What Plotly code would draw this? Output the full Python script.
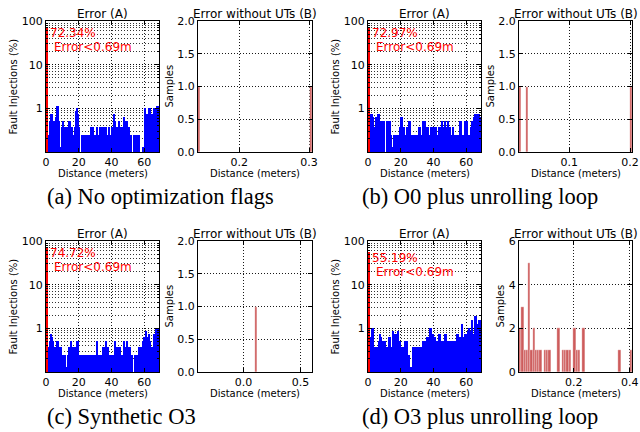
import numpy as np
import plotly.graph_objects as go

W, H = 640, 432
BIN_W = 0.69          # histogram bin width (m) of the "Error (A)" panels
N_UT_BINS = 50        # bins of the "Error without UTs (B)" panels

captions = ["(a) No optimization flags", "(b) O0 plus unrolling loop",
            "(c) Synthetic O3", "(d) O3 plus unrolling loop"]
below_pct = [72.34, 72.97, 74.72, 55.19]   # share with Error<0.69m (first bin)

# percentage of fault injections in bins 2..100 (0.69 m wide)
a_pct = [0.25, 0.25, 0.51, 0.76, 0.76, 0.51, 0.51, 0.63, 1.14, 1.14,
         0.51, 0, 0.13, 0.38, 0.51, 0.38, 0.38, 0.38, 0.25, 0.51,
         0.51, 0, 0.38, 0.25, 0.38, 0.89, 1.02, 0.76, 0.38, 0,
         0.25, 0.25, 0.25, 0.25, 0, 0.25, 0.25, 0.25, 0.38, 0.38,
         0.38, 0.25, 0.25, 0, 0.38, 0.25, 0.38, 0.38, 0.25, 0.38,
         0.25, 0.38, 0.38, 0.25, 0.38, 0.25, 0, 0.38, 0.25, 0.76,
         0.51, 0.38, 0.38, 0.51, 0.38, 0.25, 0.38, 0.25, 0.63, 0.51,
         0.51, 0.25, 0.38, 0.25, 0.25, 0, 0.25, 0.25, 0.25, 0.25,
         0.25, 0.25, 0, 0, 0.13, 0, 1.02, 0.76, 0.76, 0.51,
         1.02, 1.02, 0.76, 0.63, 1.02, 0.51, 1.02, 1.14, 1.14]
b_pct = [0.76, 0.63, 0.76, 0.63, 0.38, 0.25, 0.63, 0.76, 0.76, 0.51,
         0.38, 0.51, 0.51, 0.51, 0, 0.51, 0.51, 0.25, 0.51, 0.25,
         0, 0.13, 0.25, 0.25, 0.25, 0.25, 0.13, 0.38, 0.63, 0.63,
         0.38, 0.25, 0.25, 0.38, 0.25, 0.51, 0.51, 0.25, 0.25, 0.25,
         0, 0.25, 0.25, 0.13, 0.38, 0.38, 0.25, 0.51, 0.51, 0.51,
         0.38, 0.38, 0.38, 0.25, 0.38, 0, 0.38, 0.38, 0.38, 0.38,
         0.25, 0.38, 0.38, 0.38, 0.51, 0.38, 0.38, 0.51, 0.38, 0.51,
         0.38, 0.38, 0.25, 0.25, 0.38, 0.25, 0.25, 0.25, 0.25, 0.25,
         0.51, 0.51, 0.25, 0.25, 0.51, 0.51, 0.51, 0.25, 0, 0.25,
         0.38, 0.51, 0.63, 0.76, 0.51, 0.76, 0.76, 0.76, 0.63]
c_pct = [0.38, 0.38, 0.51, 0.76, 0.63, 0.51, 0.38, 0.38, 0.51, 0.51,
         0.38, 0.38, 0.38, 0.25, 0.25, 0.25, 0, 0.13, 0.25, 0.38,
         0.38, 0.51, 0.38, 0.38, 0.25, 0.38, 0.51, 0.51, 0.25, 0.25,
         0.25, 0.25, 0, 0.25, 0.25, 0.25, 0, 0.25, 0.25, 0.25,
         0.25, 0.25, 0.25, 0.25, 0.51, 0.25, 0.25, 0, 0.25, 0.38,
         0.38, 0.38, 0.51, 0.38, 0.25, 0.25, 0, 0.25, 0.25, 0.25,
         0.51, 0.38, 0.38, 0.38, 0.38, 0.25, 0.25, 0.25, 0.51, 0.38,
         0.51, 0.38, 0.38, 0.38, 0.25, 0.25, 0, 0.25, 0.25, 0.25,
         0.25, 0.38, 0.38, 0.38, 0.51, 0.63, 0.51, 0.89, 0.63, 0.51,
         0.76, 0.51, 0.38, 0.38, 0.76, 0.63, 1.02, 1.02, 1.02]
d_pct = [0.63, 0.63, 1.02, 1.02, 0.38, 0.38, 0.38, 0.38, 0.51, 0.76,
         0.63, 0.51, 0.38, 0.51, 0.51, 0.38, 0.38, 0.63, 0.63, 0.38,
         0.38, 0.89, 0.76, 0.76, 0.76, 0.89, 0.51, 0.51, 0.38, 0.38,
         0.38, 0.51, 0.25, 0.51, 0.25, 0.25, 0.13, 0.13, 0.38, 0.38,
         0.38, 0.13, 0.38, 0.38, 0.13, 0.38, 0.38, 0.51, 0.25, 0.51,
         0.51, 0.63, 0.63, 1.02, 1.02, 0.76, 0.76, 0.51, 0.63, 0.51,
         0.51, 0.76, 0.76, 0.51, 0.51, 0.51, 0.38, 0.76, 0.76, 0.51,
         0.51, 0.51, 0.38, 0.51, 0.51, 0.51, 0.51, 0.76, 0.76, 0.51,
         0.63, 0.63, 1.27, 0.63, 0.76, 0.63, 0.76, 0.89, 1.02, 0.89,
         0.63, 1.52, 0.76, 1.90, 1.90, 0.76, 1.27, 1.52, 1.52]

# "Error without UTs (B)": histogram range (min, max) and 50 bin counts
a_ut_range = [0.1407, 0.3043]
a_ut_counts = [1, 0, 0, 0, 0, 0, 0, 0, 0, 0, 0, 0, 0, 0, 0, 0, 0, 0, 0, 0, 0, 0, 0, 0, 0,
               0, 0, 0, 0, 0, 0, 0, 0, 0, 0, 0, 0, 0, 0, 0, 0, 0, 0, 0, 0, 0, 0, 0, 0, 1]
b_ut_range = [0.0171, 0.2033]
b_ut_counts = [1, 0, 0, 1, 0, 0, 0, 0, 0, 0, 0, 0, 0, 0, 0, 0, 0, 0, 0, 0, 0, 0, 0, 0, 0,
               0, 0, 0, 0, 0, 0, 0, 0, 0, 0, 0, 0, 0, 0, 0, 0, 0, 0, 0, 0, 0, 0, 0, 0, 1]
c_ut_range = [-0.4, 0.6]
c_ut_counts = [0, 0, 0, 0, 0, 0, 0, 0, 0, 0, 0, 0, 0, 0, 0, 0, 0, 0, 0, 0, 0, 0, 0, 0, 0,
               1, 0, 0, 0, 0, 0, 0, 0, 0, 0, 0, 0, 0, 0, 0, 0, 0, 0, 0, 0, 0, 0, 0, 0, 0]
d_ut_range = [0.004, 0.408]
d_ut_counts = [2, 3, 1, 1, 5, 1, 2, 1, 1, 1, 0, 1, 1, 1, 0, 0, 0, 2, 0, 1, 1, 1, 1, 0, 2,
               1, 1, 0, 2, 0, 0, 0, 0, 0, 0, 0, 0, 0, 0, 0, 0, 0, 0, 0, 1, 0, 0, 0, 0, 1]

ut_xticks = [[0.2, 0.3], [0.1, 0.2], [0.0, 0.5], [0.2, 0.4]]
ut_yticks = [[0, 0.5, 1.0, 1.5, 2.0], [0, 0.5, 1.0, 1.5, 2.0],
             [0, 0.5, 1.0, 1.5, 2.0], [0, 2, 4, 6]]
err_xticks = [0, 20, 40, 60]
err_yticks = [1, 10, 100]

# ---------------- layout geometry (pixels) ----------------
rows_y = [(21, 152), (241, 372)]
cols_x = [((46, 159), (198, 312)), ((368, 481), (519, 632))]
samples_label_x = [169, 490, 169, 500]
caption_x = [45, 360, 45, 360]

SANS = "DejaVu Sans"
SERIF = "Liberation Serif"
BLUE = "#0000ff"
RED = "#ff0000"
IRED = "#cd5c5c"
DOT = "1px,2px"
GRID = dict(showgrid=True, gridcolor="rgba(0,0,0,0.9)", griddash=DOT, gridwidth=1)


def px(x):
    return x / W


def py(y):
    return 1 - y / H


fig = go.Figure()
layout = dict(width=W, height=H, margin=dict(l=0, r=0, t=0, b=0, autoexpand=False),
              paper_bgcolor="white", plot_bgcolor="white", showlegend=False,
              bargap=0, barmode="overlay", font=dict(family=SANS, size=11, color="black"))
annotations = []

err_sets = [a_pct, b_pct, c_pct, d_pct]
ut_ranges = [a_ut_range, b_ut_range, c_ut_range, d_ut_range]
ut_counts = [a_ut_counts, b_ut_counts, c_ut_counts, d_ut_counts]

axis_common = dict(showline=True, linecolor="black", linewidth=1, mirror="ticks",
                   ticks="inside", ticklen=4, tickcolor="black", zeroline=False,
                   automargin=False, layer="above traces",
                   tickfont=dict(family=SANS, size=11, color="black"), **GRID)

for p in range(4):
    r, c = divmod(p, 2)
    y0, y1 = rows_y[r]
    (lx0, lx1), (rx0, rx1) = cols_x[c]
    ia, ib = 2 * p + 1, 2 * p + 2
    xa, ya = f"x{ia}", f"y{ia}"
    xb, yb = f"x{ib}", f"y{ib}"

    # ---- Error (A): log-scale histogram ----
    vals = err_sets[p]
    centers = BIN_W * (np.arange(1, len(vals) + 1) + 0.5)
    fig.add_trace(go.Bar(x=centers, y=[v if v > 0 else None for v in vals], width=BIN_W,
                         marker=dict(color=BLUE, line=dict(width=0)), xaxis=xa, yaxis=ya))
    fig.add_trace(go.Bar(x=[BIN_W / 2], y=[below_pct[p]], width=BIN_W,
                         marker=dict(color=RED, line=dict(width=0)), xaxis=xa, yaxis=ya))
    layout[f"xaxis{ia}"] = dict(domain=[px(lx0), px(lx1)], anchor=ya, range=[0, BIN_W * 100],
                                tickvals=err_xticks, **axis_common)
    layout[f"yaxis{ia}"] = dict(domain=[py(y1), py(y0)], anchor=xa, type="log", range=[-1, 2],
                                tickvals=err_yticks, ticktext=[str(t) for t in err_yticks],
                                minor=dict(dtick="D1", showgrid=True, gridcolor="rgba(0,0,0,0.8)",
                                           griddash=DOT, gridwidth=1, ticks="inside",
                                           ticklen=2, tickcolor="black"),
                                **axis_common)

    # ---- Error without UTs (B): linear histogram ----
    lo, hi = ut_ranges[p]
    cnt = ut_counts[p]
    bw = (hi - lo) / N_UT_BINS
    ucent = lo + bw * (np.arange(N_UT_BINS) + 0.5)
    fig.add_trace(go.Bar(x=ucent, y=cnt, width=bw,
                         marker=dict(color=IRED, line=dict(width=0.3, color="white")),
                         xaxis=xb, yaxis=yb))
    yt = ut_yticks[p]
    layout[f"xaxis{ib}"] = dict(domain=[px(rx0), px(rx1)], anchor=yb, range=[lo, hi],
                                tickvals=ut_xticks[p], tickformat=".1f", **axis_common)
    layout[f"yaxis{ib}"] = dict(domain=[py(y1), py(y0)], anchor=xb, range=[0, yt[-1]],
                                tickvals=yt, tickformat=".1f" if yt[-1] == 2.0 else "d",
                                **axis_common)

    # ---- texts ----
    annotations += [
        dict(text="Error (A)", x=px((lx0 + lx1) / 2), y=py(y0 - 7), xref="paper", yref="paper",
             showarrow=False, xanchor="center", yanchor="middle", font=dict(size=12)),
        dict(text="Error without UTs (B)", x=px((rx0 + rx1) / 2), y=py(y0 - 7), xref="paper",
             yref="paper", showarrow=False, xanchor="center", yanchor="middle", font=dict(size=12)),
        dict(text="Fault Injections (%)", x=px(lx0 - 33), y=py((y0 + y1) / 2), xref="paper",
             yref="paper", showarrow=False, textangle=-90, xanchor="center", yanchor="middle",
             font=dict(size=10)),
        dict(text="Samples", x=px(samples_label_x[p]), y=py((y0 + y1) / 2), xref="paper",
             yref="paper", showarrow=False, textangle=-90, xanchor="center", yanchor="middle",
             font=dict(size=10)),
        dict(text="Distance (meters)", x=px((lx0 + lx1) / 2), y=py(y1 + 21), xref="paper",
             yref="paper", showarrow=False, xanchor="center", yanchor="middle", font=dict(size=10)),
        dict(text="Distance (meters)", x=px((rx0 + rx1) / 2), y=py(y1 + 21), xref="paper",
             yref="paper", showarrow=False, xanchor="center", yanchor="middle", font=dict(size=10)),
        dict(text=captions[p], x=px(caption_x[p]), y=py(y1 + 44), xref="paper", yref="paper",
             showarrow=False, xanchor="left", yanchor="middle",
             font=dict(family=SERIF, size=22.5, color="black")),
        dict(text=f"{below_pct[p]:.2f}%", x=1.5, y=float(np.log10(below_pct[p])), xref=xa, yref=ya,
             showarrow=False, xanchor="left", yanchor="top", yshift=3,
             font=dict(size=12, color=RED)),
        dict(text="Error&lt;0.69m", x=1.5, y=float(np.log10(below_pct[p])), xref=xa, yref=ya,
             showarrow=False, xanchor="left", yanchor="top", yshift=-11, xshift=4,
             font=dict(size=12, color=RED)),
    ]

layout["annotations"] = annotations
fig.update_layout(**layout)
fig.write_html("out.html", config={"displayModeBar": False},
               post_script="document.body.style.margin='0';document.body.style.padding='0';")
